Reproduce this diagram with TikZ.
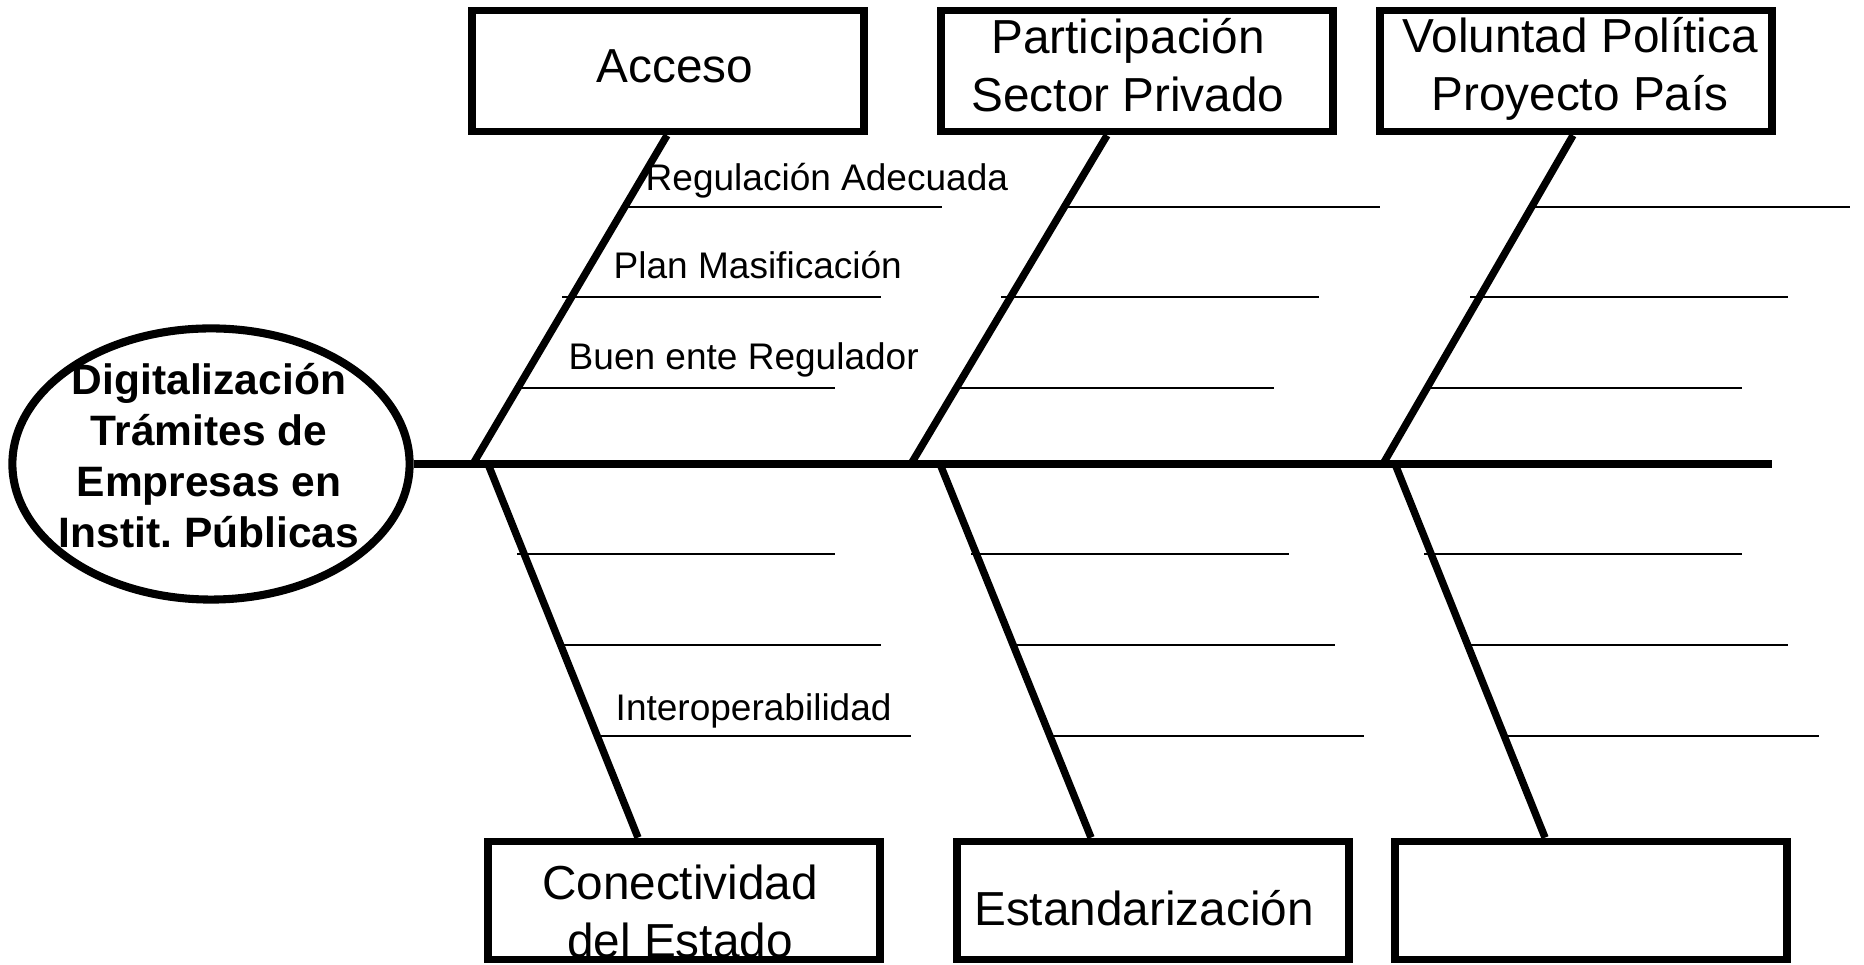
\documentclass[tikz,border=0pt]{standalone}
\usepackage{fontspec}
\setmainfont{Liberation Sans}
\frenchspacing
\usetikzlibrary{shapes.geometric,calc}
\begin{document}
\begin{tikzpicture}[x=0.01cm,y=-0.01cm,
  hub/.style={draw, ellipse, line width=2.3pt, minimum width=3.97cm, minimum height=2.71cm, inner sep=0pt},
  hubtext/.style={font=\fontsize{12.09pt}{14.42pt}\selectfont\bfseries, anchor=base, inner sep=0pt},
  catbox/.style={draw, line width=2.2pt, minimum width=3.92cm, inner sep=0pt},
  title/.style={font=\fontsize{13.57pt}{16.3pt}\selectfont, anchor=base, inner sep=0pt},
  cause/.style={font=\fontsize{10.53pt}{12.6pt}\selectfont, anchor=base west, inner sep=0pt},
  spine/.style={line width=2.28pt},
  bone/.style={line width=2.1pt},
  rib/.style={line width=0.57pt}]
\useasboundingbox (0,0) rectangle (1864,965);

% head
\node[hub] (hub) at (211,464) {};
\node[hubtext] (hubt) at (209,395) {\begin{tabular}[t]{@{}c@{}}Digitalización\\Trámites de\\Empresas en\\Instit. Públicas\end{tabular}};

% category boxes
\node[catbox, minimum height=1.21cm] (b1) at (668,71) {};
\node[catbox, minimum height=1.21cm] (b2) at (1137,71) {};
\node[catbox, minimum height=1.21cm] (b3) at (1576,71) {};
\node[catbox, minimum height=1.18cm] (b4) at (684,900.5) {};
\node[catbox, minimum height=1.18cm] (b5) at (1153,900.5) {};
\node[catbox, minimum height=1.18cm] (b6) at (1591,900.5) {};

\node[title] (t1) at (675,83) {Acceso};
\node[title] (t2) at (1128,54) {\begin{tabular}[t]{@{}c@{}}Participación\\Sector Privado\end{tabular}};
\node[title] (t3) at (1580,53) {\begin{tabular}[t]{@{}c@{}}Voluntad Política\\Proyecto País\end{tabular}};
\node[title] (t4) at (680,900) {\begin{tabular}[t]{@{}c@{}}Conectividad\\del Estado\end{tabular}};
\node[title] (t5) at (1144,926) {Estandarización};

% spine
\coordinate (tail) at (1772,464);
\draw[spine] (hub.east) -- (tail);

% bones
\coordinate (u1) at (473,464);
\coordinate (u2) at (911,464);
\coordinate (u3) at (1383,464);
\coordinate (l1) at (488,464);
\coordinate (l2) at (940,464);
\coordinate (l3) at (1395,464);
\draw[bone] (u1) -- ($(b1.south)+(-1,0)$);
\draw[bone] (u2) -- ($(b2.south)+(-30,0)$);
\draw[bone] (u3) -- ($(b3.south)+(-3,0)$);
\draw[bone] (l1) -- ($(b4.north)+(-46,0)$);
\draw[bone] (l2) -- ($(b5.north)+(-62,0)$);
\draw[bone] (l3) -- ($(b6.north)+(-46,0)$);

% ribs
\draw[rib] (627,207) -- (942,207);
\draw[rib] (562,297) -- (881,297);
\draw[rib] (520,388) -- (835,388);
\draw[rib] (1066,207) -- (1380,207);
\draw[rib] (1001,297) -- (1319,297);
\draw[rib] (958,388) -- (1274,388);
\draw[rib] (1533,207) -- (1850,207);
\draw[rib] (1470,297) -- (1788,297);
\draw[rib] (1427,388) -- (1742,388);
\draw[rib] (517,554) -- (835,554);
\draw[rib] (562,645) -- (881,645);
\draw[rib] (599,736) -- (911,736);
\draw[rib] (971,554) -- (1289,554);
\draw[rib] (1016,645) -- (1335,645);
\draw[rib] (1052,736) -- (1364,736);
\draw[rib] (1424,554) -- (1742,554);
\draw[rib] (1470,645) -- (1788,645);
\draw[rib] (1507,736) -- (1819,736);

% cause labels
\node[cause] (c1) at (645,191) {Regulación Adecuada};
\node[cause] (c2) at (613,279) {Plan Masificación};
\node[cause] (c3) at (568,370) {Buen ente Regulador};
\node[cause] (c4) at (615,721) {Interoperabilidad};
\end{tikzpicture}
\end{document}
